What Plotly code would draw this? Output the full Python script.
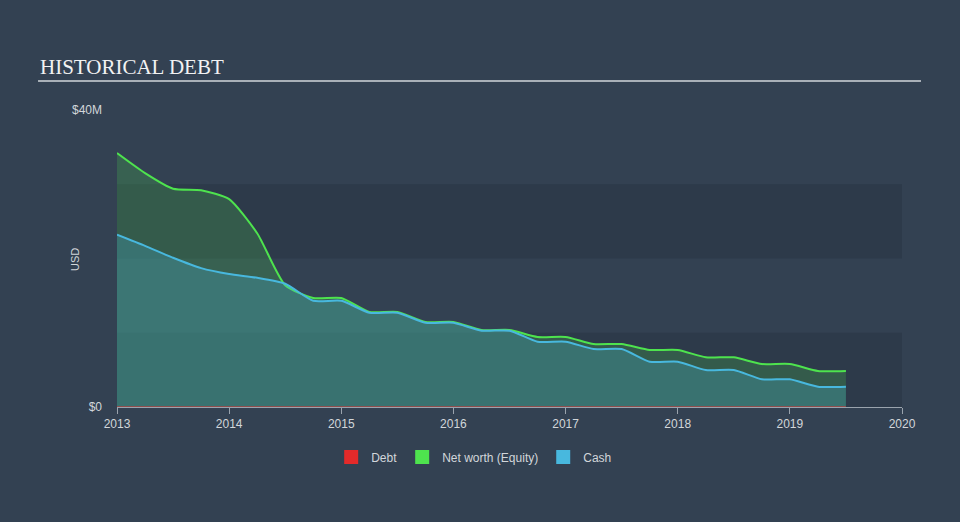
import plotly.graph_objects as go

# ---- data (USD millions) ----
dates = [2013.0, 2013.25, 2013.5, 2013.75, 2014.0, 2014.25, 2014.5, 2014.75,
         2015.0, 2015.25, 2015.5, 2015.75, 2016.0, 2016.25, 2016.5, 2016.75,
         2017.0, 2017.25, 2017.5, 2017.75, 2018.0, 2018.25, 2018.5, 2018.75,
         2019.0, 2019.25, 2019.5]
net_worth = [34.2, 31.5, 29.4, 29.2, 28.0, 23.4, 16.4, 14.68,
             14.68, 12.8, 12.8, 11.45, 11.45, 10.37, 10.37, 9.43,
             9.43, 8.48, 8.48, 7.68, 7.68, 6.69, 6.69, 5.79,
             5.79, 4.85, 4.85]
cash = [23.2, 21.7, 20.1, 18.7, 17.9, 17.4, 16.6, 14.3,
        14.3, 12.7, 12.7, 11.35, 11.35, 10.28, 10.28, 8.8,
        8.8, 7.81, 7.81, 6.1, 6.1, 4.98, 4.98, 3.73,
        3.73, 2.73, 2.73]
debt = [0.0] * len(dates)

year_ticks = [2013, 2014, 2015, 2016, 2017, 2018, 2019, 2020]
y_ticks = [0, 40]
y_tick_labels = ["$0", "$40M"]
bands = [(0, 10), (20, 30)]

BG = "#334152"
BAND = "#2d3a4a"
GREEN = "#4ee34e"
BLUE = "#48b8de"
RED = "#e42a2a"
TXT = "#d2d6da"
SMOOTH = 0.6

fig = go.Figure()

fig.add_trace(go.Scatter(
    x=dates, y=net_worth, mode="lines", name="Net worth (Equity)",
    line=dict(color=GREEN, width=2, shape="spline", smoothing=SMOOTH),
    fill="tozeroy", fillcolor="rgba(78,227,78,0.2)", showlegend=False,
    hoverinfo="skip"))
fig.add_trace(go.Scatter(
    x=dates, y=cash, mode="lines", name="Cash",
    line=dict(color=BLUE, width=2, shape="spline", smoothing=SMOOTH),
    fill="tozeroy", fillcolor="rgba(72,184,222,0.25)", showlegend=False,
    hoverinfo="skip"))
fig.add_trace(go.Scatter(
    x=dates, y=debt, mode="lines", name="Debt",
    line=dict(color=RED, width=1.2), showlegend=False, hoverinfo="skip"))

# legend entries as squares
for name, col in [("Debt", RED), ("Net worth (Equity)", GREEN), ("Cash", BLUE)]:
    fig.add_trace(go.Scatter(
        x=[None], y=[None], mode="markers", name=name,
        marker=dict(symbol="square", size=14, color=col)))

shapes = []
for lo, hi in bands:
    shapes.append(dict(type="rect", xref="x", yref="y", x0=2013, x1=2020,
                       y0=lo, y1=hi, fillcolor=BAND, line=dict(width=0),
                       layer="below"))
shapes.append(dict(type="line", xref="paper", yref="paper",
                   x0=-0.1006, x1=1.0242, y0=1.0976, y1=1.0976,
                   line=dict(color="#a9b0b8", width=2)))
fig.update_layout(shapes=shapes)

fig.add_annotation(text="HISTORICAL DEBT", xref="paper", yref="paper",
                   x=-0.1006, y=1.145, xanchor="left", yanchor="middle",
                   showarrow=False,
                   font=dict(family="Liberation Serif", size=21, color="#f2f2f2"))
fig.add_annotation(text="USD", xref="paper", yref="paper",
                   x=-0.0535, y=0.495, xanchor="center", yanchor="middle",
                   textangle=-90, showarrow=False,
                   font=dict(family="Liberation Sans", size=11, color=TXT))

fig.update_layout(
    width=960, height=522,
    margin=dict(l=117, r=58, t=110, b=115),
    paper_bgcolor=BG, plot_bgcolor="rgba(0,0,0,0)",
    font=dict(family="Liberation Sans", size=12, color=TXT),
    xaxis=dict(range=[2013, 2020], tickvals=year_ticks,
               ticktext=[str(y) for y in year_ticks],
               showgrid=False, zeroline=False, showline=True,
               linecolor="#9aa3ad", linewidth=1, ticks="outside",
               ticklen=6, tickcolor="#9aa3ad", tickfont=dict(size=12, color=TXT),
               fixedrange=True),
    yaxis=dict(range=[0, 40], tickvals=y_ticks, ticktext=y_tick_labels,
               showgrid=False, zeroline=False, showline=False,
               ticks="", ticklabelstandoff=14,
               tickfont=dict(size=12, color=TXT), fixedrange=True),
    legend=dict(orientation="h", x=0.455, y=-0.168, xanchor="center",
                yanchor="middle", font=dict(size=12, color=TXT),
                bgcolor="rgba(0,0,0,0)", itemwidth=30),
    showlegend=True,
)

fig.write_html("out.html", config={"displayModeBar": False},
               post_script="document.body.style.margin='0px';"
                           "document.body.style.background='" + BG + "';")
